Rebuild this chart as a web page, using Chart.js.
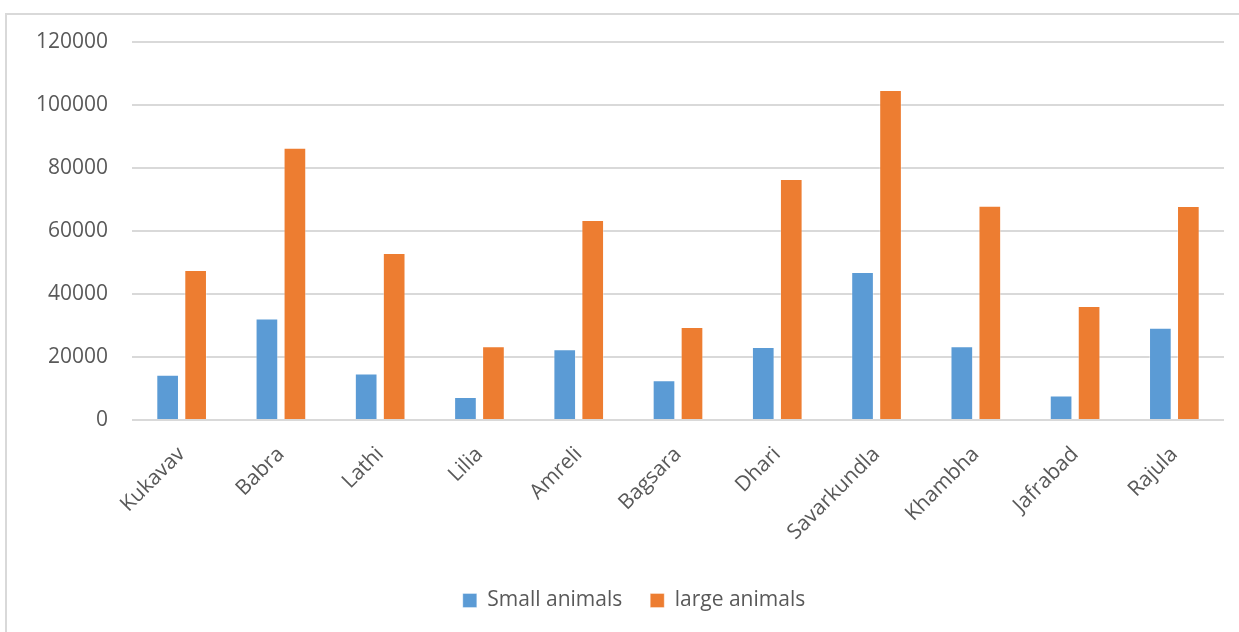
<!DOCTYPE html>
<html>
<head>
<meta charset="utf-8">
<script src="https://cdn.jsdelivr.net/npm/chart.js@4.4.1/dist/chart.umd.min.js"></script>
<style>
  html, body { margin: 0; padding: 0; background: #ffffff; }
  body { width: 1239px; height: 632px; position: relative; overflow: hidden; }
  #frame {
    position: absolute; left: 5px; top: 13px; width: 1260px; height: 650px;
    border-left: 2px solid #d9d9d9; border-top: 2px solid #d9d9d9; box-sizing: border-box;
  }
  #wrap { position: absolute; left: 0; top: 0; width: 1239px; height: 632px; }
</style>
</head>
<body>
<div id="frame"></div>
<div id="wrap"><canvas id="chart" width="1239" height="632"></canvas></div>
<script>
// Livestock counts per taluka
const talukas = ['Kukavav', 'Babra', 'Lathi', 'Lilia', 'Amreli', 'Bagsara', 'Dhari', 'Savarkundla', 'Khambha', 'Jafrabad', 'Rajula'];
const smallAnimals = [14400, 32200, 14800, 7300, 22500, 12600, 23200, 47000, 23400, 7800, 29300];
const largeAnimals = [47600, 86400, 53000, 23400, 63500, 29500, 76500, 104800, 68000, 36200, 67900];
const yTicks = [0, 20000, 40000, 60000, 80000, 100000, 120000];

const FONT = "'Open Sans', 'DejaVu Sans', sans-serif";
const TEXT = '#595959';

// Centre the legend under the plot area rather than the whole canvas
const legendUnderPlot = {
  id: 'legendUnderPlot',
  afterLayout(chart) {
    const lg = chart.legend;
    if (!lg) return;
    const shift = chart.chartArea.left - 88;
    lg.left += shift;
  }
};

new Chart(document.getElementById('chart'), {
  type: 'bar',
  data: {
    labels: talukas,
    datasets: [
      {
        label: 'Small animals',
        data: smallAnimals,
        backgroundColor: '#5b9bd5',
        borderColor: 'rgba(255,255,255,0.35)',
        borderWidth: 1,
        categoryPercentage: 0.564,
        barPercentage: 0.81
      },
      {
        label: 'large animals',
        data: largeAnimals,
        backgroundColor: '#ed7d31',
        borderColor: 'rgba(255,255,255,0.35)',
        borderWidth: 1,
        categoryPercentage: 0.564,
        barPercentage: 0.81
      }
    ]
  },
  plugins: [legendUnderPlot],
  options: {
    responsive: false,
    animation: false,
    devicePixelRatio: 1,
    layout: { padding: { left: 0, right: 15, top: 42, bottom: 11 } },
    plugins: {
      tooltip: { enabled: false },
      legend: {
        position: 'bottom',
        labels: {
          boxWidth: 14,
          boxHeight: 14,
          padding: 28,
          color: TEXT,
          font: { family: FONT, size: 21 }
        }
      }
    },
    scales: {
      x: {
        grid: { display: false, drawTicks: false },
        border: { display: false },
        ticks: {
          color: TEXT,
          font: { family: FONT, size: 21 },
          minRotation: 45,
          maxRotation: 45,
          padding: 22,
          autoSkip: false
        },
        afterFit: (scale) => { scale.height = 142; }
      },
      y: {
        min: 0,
        max: 120000,
        grid: { color: '#d9d9d9', lineWidth: 2, drawTicks: false },
        border: { display: false },
        afterBuildTicks: (scale) => { scale.ticks = yTicks.map(v => ({ value: v })); },
        ticks: {
          color: TEXT,
          font: { family: FONT, size: 21 },
          padding: 24,
          callback: (v) => String(v)
        },
        afterFit: (scale) => { scale.width = 132; }
      }
    }
  }
});
</script>
</body>
</html>
